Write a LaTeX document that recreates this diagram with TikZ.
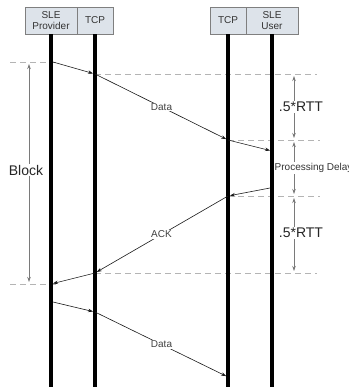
\documentclass[tikz,border=0pt]{standalone}
\usepackage{fontspec}
\setmainfont{Liberation Sans}
\usetikzlibrary{arrows.meta}
\definecolor{hdrfill}{HTML}{DDE3EA}
\definecolor{hdrline}{HTML}{7F7F7F}
\definecolor{guidegray}{HTML}{B4B4B4}
\definecolor{dimgray}{HTML}{7A7A7A}
\begin{document}
\begin{tikzpicture}[x=1pt,y=-1pt,
  hdr/.style={draw=hdrline, fill=hdrfill, minimum height=27pt, inner sep=0pt, align=center, font=\fontsize{10}{11}\selectfont, text=black!80},
  life/.style={line width=4pt, black},
  msg/.style={-{Stealth[length=5pt,width=3.5pt]}, line width=0.6pt, shorten >=2pt, black!90},
  lbl/.style={fill=white, inner sep=1pt, font=\fontsize{10}{12}\selectfont, text=black!75},
  guide/.style={dash pattern=on 6pt off 4pt, guidegray, line width=0.8pt},
  dimline/.style={{Stealth[length=5pt,width=3.5pt]}-{Stealth[length=5pt,width=3.5pt]}, dimgray, line width=0.7pt, shorten <=2pt, shorten >=2pt},
  big/.style={fill=white, inner sep=1pt, font=\fontsize{14}{16}\selectfont, text=black!85}]

\useasboundingbox (0,0) rectangle (348,387);
\clip (0,0) rectangle (348,387);

% headers
\node[hdr, minimum width=52pt] (slep) at (51,20.5) {SLE\\Provider};
\node[hdr, minimum width=36pt] (tcpp) at (95,20.5) {TCP};
\node[hdr, minimum width=36pt] (tcpu) at (228,20.5) {TCP};
\node[hdr, minimum width=52pt] (sleu) at (272,20.5) {SLE\\User};

% lifeline ends
\coordinate (slepE) at (51,392);
\coordinate (tcppE) at (95,392);
\coordinate (tcpuE) at (228,392);
\coordinate (sleuE) at (272,392);

% guide lines (dashed)
\coordinate (g1a) at (10,62);  \coordinate (g1b) at (57,62);
\coordinate (g2a) at (95,74);  \coordinate (g2b) at (317,74);
\coordinate (g3a) at (228,140); \coordinate (g3b) at (320,140);
\coordinate (g4a) at (228,196); \coordinate (g4b) at (320,196);
\coordinate (g5a) at (95,273); \coordinate (g5b) at (317,273);
\coordinate (g6a) at (10,284); \coordinate (g6b) at (57,284);
\draw[guide] (g1a) -- (g1b);
\draw[guide] (g2a) -- (g2b);
\draw[guide] (g3a) -- (g3b);
\draw[guide] (g4a) -- (g4b);
\draw[guide] (g5a) -- (g5b);
\draw[guide] (g6a) -- (g6b);

% lifelines
\draw[life] (slep.south) -- (slepE);
\draw[life] (tcpp.south) -- (tcppE);
\draw[life] (tcpu.south) -- (tcpuE);
\draw[life] (sleu.south) -- (sleuE);

% message points
\coordinate (p1) at (53,62);
\coordinate (t1) at (95,74);
\coordinate (u1) at (228,140);
\coordinate (s1) at (272,151);
\coordinate (s2) at (270,188);
\coordinate (u2) at (228,196);
\coordinate (t2) at (95,273);
\coordinate (p2) at (51,284);
\coordinate (p3) at (53,302);
\coordinate (t3) at (95,312);
\coordinate (u3) at (228,377);

\draw[msg] (p1) -- (t1);
\draw[msg] (t1) -- node[lbl] {Data} (u1);
\draw[msg] (u1) -- (s1);
\draw[msg] (s2) -- (u2);
\draw[msg] (u2) -- node[lbl] {ACK} (t2);
\draw[msg] (t2) -- (p2);
\draw[msg] (p3) -- (t3);
\draw[msg] (t3) -- node[lbl] {Data} (u3);

% dimension arrows
\coordinate (b1) at (29,62);  \coordinate (b2) at (29,284);
\coordinate (r1) at (294,74); \coordinate (r2) at (294,140);
\coordinate (r3) at (294,196); \coordinate (r4) at (294,273);
\draw[dimline] (b1) -- (b2);
\draw[dimline] (r1) -- (r2);
\draw[dimline] (r2) -- (r3);
\draw[dimline] (r3) -- (r4);
\node[big] (blk) at (26,170) {Block};
\node[big] (rtt1) at (301,107) {.5*RTT};
\node[big] (rtt2) at (301,233) {.5*RTT};
\node[lbl, anchor=west, text=black!80] (pd) at (273.5,168) {Processing Delay};
\end{tikzpicture}
\end{document}
